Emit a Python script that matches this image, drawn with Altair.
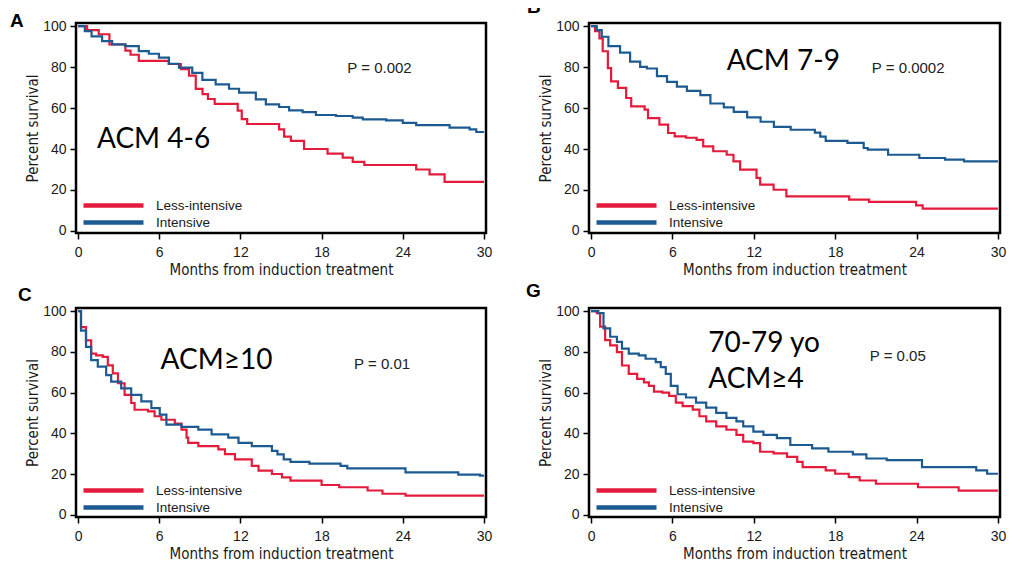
import altair as alt
import pandas as pd

RED = "#E41B3A"
BLUE = "#1C5A92"
ARMS = ["Less-intensive", "Intensive"]
X_TICKS = [0, 6, 12, 18, 24, 30]
Y_TICKS = [0, 20, 40, 60, 80, 100]
X_TITLE = "Months from induction treatment"
Y_TITLE = "Percent survival"
COND = "DejaVu Sans Condensed, Liberation Sans, sans-serif"

# ---------------- Panel A : ACM 4-6
A_less_t = [0, 0.67, 1.53, 2.32, 3.5, 3.88, 4.49, 6.7, 7.6, 8.2, 8.7, 9.2, 9.6, 10.1, 11.8, 12.1, 12.5,
            14.86, 15.23, 15.73, 16.7, 18.44, 19.56, 20.3, 21.16, 24.99, 25.98, 27.09, 30]
A_less_v = [100, 98, 96, 91, 88, 86, 83, 81.5, 79, 75.8, 69.3, 66.8, 64.4, 62, 58.7, 54.6, 52.2,
            49.6, 46, 44, 40, 37.7, 35.8, 33.7, 32.2, 30, 27.6, 24, 24]
A_int_t = [0, 0.5, 1, 1.78, 2.52, 3.5, 4.49, 5.23, 5.98, 6.72, 7.46, 8.44, 9.19, 10.17, 11.16, 11.9,
           13.14, 13.88, 14.86, 15.6, 16.6, 17.58, 19.06, 20.3, 21.04, 22.77, 24, 24.99, 27.46, 28.94,
           29.43, 30]
A_int_v = [100, 97.5, 95, 92.7, 91.1, 90.2, 87.8, 86.5, 84.6, 81.6, 79.7, 77.2, 73.7, 71.5, 69.4, 67.5,
           64.2, 61.8, 60.5, 58.9, 58, 56.6, 56.1, 55.3, 54.5, 54, 52.8, 51.7, 50.4, 49.6, 48.3, 48.3]
A_label = ["ACM 4-6"]
A_label_t = [1.4]
A_label_v = [40.5]
A_p = ["P = 0.002"]
A_p_t = [19.9]
A_p_v = [77]

# ---------------- Panel B : ACM 7-9
B_less_t = [0, 0.3, 0.62, 0.86, 1.24, 1.48, 1.98, 2.59, 2.96, 3.95, 4.2, 5.04, 5.68, 6.17, 7.0, 7.78,
            8.27, 9.01, 10.0, 10.5, 10.99, 12.2, 12.47, 13.46, 14.4, 19.03, 20.5, 23.96, 24.45, 30]
B_less_v = [100, 97.5, 94, 87.7, 79.5, 73, 69.8, 64.9, 60.8, 59.2, 55.1, 51.9, 47.8, 46.2, 45.5, 44.5,
            41.3, 38.9, 37.2, 34, 29.9, 25.9, 22.6, 20.1, 16.9, 15.3, 14.2, 12.5, 10.9, 10.9]
B_int_t = [0, 0.42, 0.79, 1.28, 2.14, 2.88, 3.62, 4.12, 4.86, 5.6, 6.33, 7.07, 8.06, 8.8, 9.79, 10.52,
           11.51, 12.5, 13.48, 14.72, 16.5, 16.9, 17.3, 18.9, 20.1, 20.4, 21.9, 24.2, 26.1, 27.5, 30]
B_int_v = [100, 98, 94.8, 90.2, 87, 82.6, 80.1, 79.3, 75.6, 72.8, 70.4, 68.4, 66.3, 62.2, 60.3, 58.1,
           55.4, 53.3, 50.8, 49.4, 48, 46, 44, 43, 40.5, 39.7, 37.2, 35.6, 34.8, 34, 34]
B_label = ["ACM 7-9"]
B_label_t = [10.0]
B_label_v = [78.5]
B_p = ["P = 0.0002"]
B_p_t = [20.7]
B_p_v = [77]

# ---------------- Panel C : ACM>=10
C_less_t = [0, 0.22, 0.59, 0.97, 1.34, 1.83, 2.2, 2.57, 2.95, 3.44, 3.93, 4.18, 5.17, 5.66, 6.16, 7.15,
            7.65, 8.02, 8.14, 8.89, 10.37, 10.86, 11.6, 12.84, 13.34, 14.33, 15.07, 15.7, 18.0, 19.3,
            21.4, 22.5, 24.2, 30]
C_less_v = [100, 92.1, 85.6, 79.1, 78.3, 77.5, 73.4, 69.4, 64.6, 58.9, 54.9, 51.6, 50.8, 48.4, 46.7, 44.8,
            41.9, 37.9, 35.4, 33.8, 32.2, 29.8, 27.3, 24.1, 21.7, 20.1, 18.4, 16.8, 14.7, 13.6,
            12.0, 10.4, 9.5, 9.5]
C_int_t = [0, 0.22, 0.59, 0.97, 1.46, 2.08, 2.45, 3.19, 3.93, 4.68, 5.42, 6.04, 6.53, 7.65, 8.89, 9.87,
           11.1, 11.86, 12.84, 14.33, 14.74, 15.2, 15.7, 17.1, 19.4, 19.9, 24.2, 28.1, 29.7, 30]
C_int_v = [100, 90.4, 82.4, 75.9, 72.7, 68.6, 65.4, 62.1, 58.9, 55.7, 52.4, 49.2, 44.3, 43.2, 41.9, 39.5,
           37.9, 35.4, 33.8, 31.4, 29.7, 27.3, 26, 25.2, 24.1, 22.8, 20.9, 19.8, 19.3, 19.3]
C_label = ["ACM≥10"]
C_label_t = [6.1]
C_label_v = [71.4]
C_p = ["P = 0.01"]
C_p_t = [20.4]
C_p_v = [71.4]

# ---------------- Panel G : 70-79 yo, ACM>=4
G_less_t = [0, 0.42, 0.67, 1.04, 1.41, 1.91, 2.28, 2.78, 3.4, 3.9, 4.27, 4.64, 5.26, 5.76, 6.25, 6.75,
            7.5, 7.99, 8.49, 9.23, 9.98, 10.72, 11.22, 11.97, 12.46, 13.46, 14.45, 15.2, 15.6, 17.3,
            18.0, 19.0, 19.8, 21.0, 24.1, 27.1, 30]
G_less_v = [100, 99, 92.4, 85.7, 83.2, 79.9, 73.3, 69.2, 66.7, 65, 63.3, 60.5, 60, 58.4, 55.1, 53.4,
            51.7, 48.4, 45.9, 43.4, 41.8, 39.3, 36, 35.2, 31, 30.2, 28.5, 26, 23.5, 21.9,
            20.2, 18.6, 16.9, 15.3, 13.6, 11.9, 11.9]
G_int_t = [0, 0.54, 0.92, 1.41, 1.91, 2.28, 2.78, 3.52, 4.02, 4.77, 5.14, 5.51, 5.88, 6.38, 7.0, 7.74,
           8.49, 9.23, 9.98, 10.72, 11.22, 11.97, 12.71, 13.7, 14.69, 16.3, 17.5, 19.3, 20.3, 21.8,
           24.4, 28.4, 29.2, 30]
G_int_v = [100, 99, 91.5, 87.4, 84.9, 81.6, 79.1, 78.3, 76.6, 75, 72.5, 69.2, 63.3, 59.2, 57.6, 55.1,
           52.6, 50.1, 47.6, 45.9, 43.4, 40.9, 39.3, 37.7, 34.3, 32.7, 31.0, 29.7, 27.7, 26.9,
           23.5, 21.9, 20.2, 20.2]
G_label = ["70-79 yo", "ACM≥4"]
G_label_t = [8.64, 8.64]
G_label_v = [80.1, 62.2]
G_p = ["P = 0.05"]
G_p_t = [20.55]
G_p_v = [75.6]

# legend key: a long horizontal stroke drawn as a custom symbol path
KEY_PATH = "M-6,0H6"


def panel(letter, lt, lv, it, iv, lab, lab_t, lab_v, p, p_t, p_v,
          width, height, t_dx, t_off):
    curves = pd.DataFrame({
        "month": lt + it,
        "pct": lv + iv,
        "arm": [ARMS[0]] * len(lt) + [ARMS[1]] * len(it),
    })
    labels = pd.DataFrame({"month": lab_t, "pct": lab_v, "txt": lab})
    ptxt = pd.DataFrame({"month": p_t, "pct": p_v, "txt": p})

    xs = alt.Scale(domain=[-0.15, 30.15], nice=False, zero=False)
    ys = alt.Scale(domain=[-1, 101.5], nice=False, zero=False)

    lines = alt.Chart(curves).mark_line(interpolate="step-after", strokeWidth=2.2).encode(
        x=alt.X("month:Q", scale=xs,
                axis=alt.Axis(values=X_TICKS, title=X_TITLE, labelFlush=False,
                              labelOverlap=False)),
        y=alt.Y("pct:Q", scale=ys, axis=alt.Axis(values=Y_TICKS, title=Y_TITLE)),
        color=alt.Color("arm:N", scale=alt.Scale(domain=ARMS, range=[RED, BLUE]),
                        legend=alt.Legend(title=None, orient="none", legendX=30, legendY=175,
                                          symbolType=KEY_PATH, symbolSize=100,
                                          symbolStrokeWidth=4.5, symbolFillColor="transparent",
                                          labelFont="Liberation Sans",
                                          labelFontSize=13.5, labelColor="#1a1a1a",
                                          labelOffset=35, rowPadding=-5, padding=0)),
        order=alt.Order("month:Q"),
    )
    big = alt.Chart(labels).mark_text(align="left", baseline="alphabetic", font="Lato",
                                      fontSize=28, color="#000000").encode(
        x=alt.X("month:Q", scale=xs), y=alt.Y("pct:Q", scale=ys), text="txt:N")
    pv = alt.Chart(ptxt).mark_text(align="left", baseline="alphabetic", font="Liberation Sans",
                                   fontSize=15, color="#222222").encode(
        x=alt.X("month:Q", scale=xs), y=alt.Y("pct:Q", scale=ys), text="txt:N")

    return alt.layer(lines, big, pv).properties(
        width=width, height=height,
        title=alt.TitleParams(text=letter, anchor="start", frame="group", orient="top",
                              dx=t_dx, offset=t_off, baseline="alphabetic",
                              font="Liberation Sans", fontSize=19, fontWeight="bold",
                              color="#000000"),
    )


pA = panel("A", A_less_t, A_less_v, A_int_t, A_int_v, A_label, A_label_t, A_label_v,
           A_p, A_p_t, A_p_v, 410, 210, -66, -27)
pB = panel("B", B_less_t, B_less_v, B_int_t, B_int_v, B_label, B_label_t, B_label_v,
           B_p, B_p_t, B_p_v, 411, 210, -62, -13)
pC = panel("C", C_less_t, C_less_v, C_int_t, C_int_v, C_label, C_label_t, C_label_v,
           C_p, C_p_t, C_p_v, 410, 209, -58, -16)
pG = panel("G", G_less_t, G_less_v, G_int_t, G_int_v, G_label, G_label_t, G_label_v,
           G_p, G_p_t, G_p_v, 411, 209, -63, -12)

chart = alt.concat(
    pA, pB, pC, pG, columns=2, spacing={"row": 75, "column": 103}, bounds="flush"
).resolve_legend(
    color="independent"
).properties(
    padding={"left": 0, "top": -12, "right": 0, "bottom": 0},
    background="#ffffff",
).configure_view(
    stroke="#000000", strokeWidth=2.5
).configure_axis(
    domain=False, grid=False, tickColor="#000000", tickWidth=1.5, tickSize=6,
    labelFont="Liberation Sans", labelFontSize=14, labelColor="#1a1a1a",
    titleFont=COND, titleFontWeight="normal", titleColor="#1a1a1a",
).configure_axisX(
    titleFontSize=15, labelPadding=6, titlePadding=3,
).configure_axisY(
    titleFontSize=15, labelPadding=4, titlePadding=2,
)

chart.save("out.html", embed_options={"renderer": "svg", "actions": False})
